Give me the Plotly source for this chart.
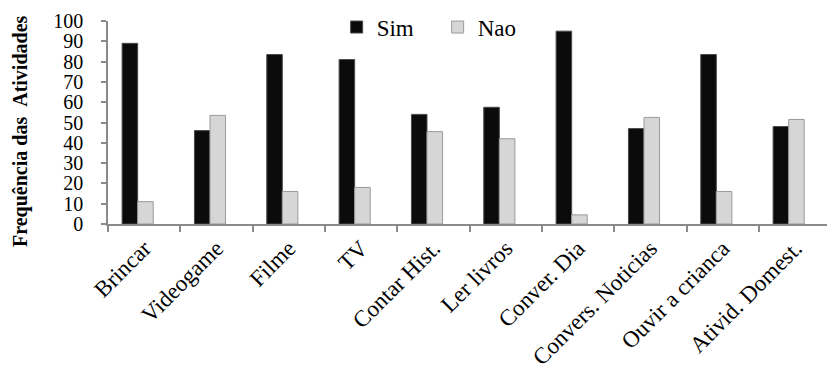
import plotly.graph_objects as go

categories = ["Brincar", "Videogame", "Filme", "TV", "Contar Hist.", "Ler livros",
              "Conver. Dia", "Convers. Noticias", "Ouvir a crianca", "Ativid. Domest."]
sim = [89, 46, 83.5, 81, 54, 57.5, 95, 47, 83.5, 48]
nao = [11, 53.5, 16, 18, 45.5, 42, 4.5, 52.5, 16, 51.5]
series_names = ["Sim", "Nao"]
y_ticks = [0, 10, 20, 30, 40, 50, 60, 70, 80, 90, 100]

SERIF = "Liberation Serif"
BW = 0.215
SHIFT = -0.09

fig = go.Figure()
fig.add_trace(go.Bar(
    x=categories, y=sim, name=series_names[0], width=BW, offset=SHIFT - BW,
    marker=dict(color="#0b0b0b", line=dict(color="#4a4a4a", width=1)),
))
fig.add_trace(go.Bar(
    x=categories, y=nao, name=series_names[1], width=BW, offset=SHIFT,
    marker=dict(color="#d6d6d6", line=dict(color="#9a9a9a", width=1)),
))

fig.update_layout(
    template="none",
    width=827, height=380,
    margin=dict(l=108, r=0, t=21, b=156),
    paper_bgcolor="white", plot_bgcolor="white",
    barmode="overlay",
    font=dict(family=SERIF, color="black"),
    legend=dict(orientation="h", x=0.318, xanchor="left", y=0.97, yanchor="middle",
                font=dict(family=SERIF, size=23, color="black"),
                bgcolor="rgba(0,0,0,0)",
                entrywidth=56, entrywidthmode="pixels"),
    showlegend=True,
)
fig.update_xaxes(
    type="category", range=[-0.5, 9.44], tickson="boundaries",
    showline=True, linecolor="#8a8a8a", linewidth=1.5,
    ticks="outside", ticklen=6, tickcolor="#8a8a8a", tickwidth=1.5,
    tickangle=-45, tickfont=dict(family=SERIF, size=23),
    ticklabelstandoff=0,
    showgrid=False, zeroline=False,
)
fig.update_yaxes(
    range=[0, 100], tickvals=y_ticks, ticktext=[str(v) for v in y_ticks],
    showline=True, linecolor="#8a8a8a", linewidth=1.5,
    ticks="outside", ticklen=5, tickcolor="#8a8a8a", tickwidth=1.5,
    tickfont=dict(family=SERIF, size=20),
    ticklabelstandoff=14,
    showgrid=False, zeroline=False,
)
fig.add_annotation(
    text="<b>Frequência das\u00a0\u00a0Atividades</b>", textangle=-90,
    xref="paper", yref="paper", x=(20 - 108) / 719, y=(224 - 131) / 203,
    xanchor="center", yanchor="middle", showarrow=False,
    font=dict(family=SERIF, size=20, color="black"),
)

fig.write_html("out.html")
